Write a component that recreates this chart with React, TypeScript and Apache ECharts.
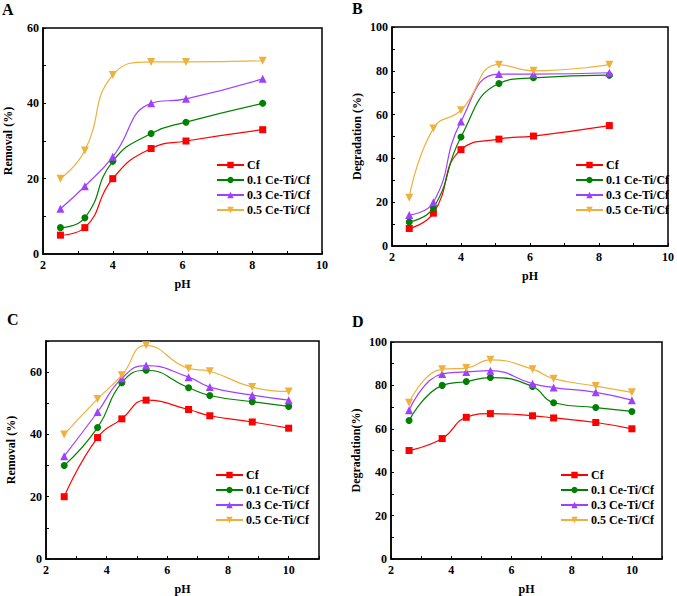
import React, { useEffect, useRef } from "react";
import * as echarts from "echarts";

const seriesNames = ["Cf", "0.1 Ce-Ti/Cf", "0.3 Ce-Ti/Cf", "0.5 Ce-Ti/Cf"];
const seriesColors = ["#ff0000", "#008000", "#a040ff", "#eeb13c"];

// Panel A: Removal vs pH
const pHA = [2.5, 3.2, 4.0, 5.1, 6.1, 8.3];
const removalA_Cf = [5, 7, 20, 28, 30, 33];
const removalA_01 = [7, 9.6, 24.6, 32, 35, 40];
const removalA_03 = [12, 18, 25.8, 40, 41.2, 46.5];
const removalA_05 = [20, 27.5, 47.5, 51, 51, 51.3];

// Panel B: Degradation vs pH
const pHB = [2.5, 3.2, 4.0, 5.1, 6.1, 8.3];
const degB_Cf = [8, 15, 44, 48.8, 50.2, 55];
const degB_01 = [11, 17.4, 49.8, 74.2, 76.8, 78];
const degB_03 = [14.2, 20, 56.9, 78.5, 78.5, 79.1];
const degB_05 = [22, 53.7, 62, 82.8, 80, 82.8];

// Panel C: Removal vs pH
const pHC = [2.6, 3.7, 4.5, 5.3, 6.7, 7.4, 8.8, 10];
const removalC_Cf = [20, 39, 45, 51, 48, 46, 44, 42];
const removalC_01 = [30, 42.2, 56.6, 60.6, 55, 52.5, 50.5, 49];
const removalC_03 = [33, 47.2, 58, 62.1, 58.4, 55.2, 52.6, 51];
const removalC_05 = [40, 51.4, 59, 68.6, 61.2, 60.3, 55.2, 53.8];

// Panel D: Degradation vs pH
const pHD = [2.6, 3.7, 4.5, 5.3, 6.7, 7.4, 8.8, 10];
const degD_Cf = [50, 55.5, 65.3, 67, 66, 65, 62.9, 60];
const degD_01 = [63.8, 80, 81.8, 83.6, 79.5, 72, 69.8, 68];
const degD_03 = [68.5, 85.3, 86.2, 86.8, 80.8, 79, 76.8, 73.2];
const degD_05 = [72, 87.5, 88, 91.8, 87.5, 83.1, 79.7, 76.8];

const xTicksAB = [2, 4, 6, 8, 10];
const xTicksCD = [2, 4, 6, 8, 10];
const yTicksA = [0, 20, 40, 60];
const yTicksB = [0, 20, 40, 60, 80, 100];
const yTicksC = [0, 20, 40, 60];
const yTicksD = [0, 20, 40, 60, 80, 100];

const FONT = "'Liberation Serif', 'Times New Roman', serif";

const symbols = [
  "rect",
  "circle",
  "triangle",
  "path://M0,0L10,0L5,9Z",
];
const symbolSizes = [7, 7, 8, 8];

type Panel = {
  letter: string;
  x: number[];
  ys: number[][];
  yName: string;
  xMax: number;
  yMax: number;
  xTicks: number[];
  yTicks: number[];
  grid: { left: number; top: number; width: number; height: number };
  legend: { left: number; top: number };
  letterPos: { left: number; top: number };
};

const panels: Panel[] = [
  {
    letter: "A",
    x: pHA,
    ys: [removalA_Cf, removalA_01, removalA_03, removalA_05],
    yName: "Removal (%)",
    xMax: 10,
    yMax: 60,
    xTicks: xTicksAB,
    yTicks: yTicksA,
    grid: { left: 43, top: 28, width: 279, height: 226 },
    legend: { left: 216, top: 159 },
    letterPos: { left: 2, top: 1 },
  },
  {
    letter: "B",
    x: pHB,
    ys: [degB_Cf, degB_01, degB_03, degB_05],
    yName: "Degradation (%)",
    xMax: 10,
    yMax: 100,
    xTicks: xTicksAB,
    yTicks: yTicksB,
    grid: { left: 392, top: 27, width: 279, height: 219 },
    legend: { left: 575, top: 159 },
    letterPos: { left: 352, top: 0 },
  },
  {
    letter: "C",
    x: pHC,
    ys: [removalC_Cf, removalC_01, removalC_03, removalC_05],
    yName: "Removal (%)",
    xMax: 11,
    yMax: 70,
    xTicks: xTicksCD,
    yTicks: yTicksC,
    grid: { left: 46, top: 341, width: 273, height: 218 },
    legend: { left: 215, top: 469 },
    letterPos: { left: 7, top: 311 },
  },
  {
    letter: "D",
    x: pHD,
    ys: [degD_Cf, degD_01, degD_03, degD_05],
    yName: "Degradation(%)",
    xMax: 11,
    yMax: 100,
    xTicks: xTicksCD,
    yTicks: yTicksD,
    grid: { left: 391, top: 342, width: 271, height: 218 },
    legend: { left: 560, top: 469 },
    letterPos: { left: 352, top: 313 },
  },
];

export default function App() {
  const ref = useRef<HTMLDivElement>(null);
  useEffect(() => {
    if (!ref.current) return;
    const chart = echarts.init(ref.current, undefined, { renderer: "svg" });
    const textBase = { fontFamily: FONT, fontWeight: "bold" as const, color: "#000" };

    const grids: any[] = [];
    const xAxes: any[] = [];
    const yAxes: any[] = [];
    const series: any[] = [];
    const legends: any[] = [];
    const graphics: any[] = [];

    panels.forEach((p, i) => {
      grids.push({
        ...p.grid,
        show: true,
        borderColor: "#000",
        borderWidth: 1.5,
        backgroundColor: "transparent",
      });
      xAxes.push({
        type: "value",
        gridIndex: i,
        min: 2,
        max: p.xMax,
        interval: 1,
        name: "pH",
        nameLocation: "middle",
        nameGap: 24,
        nameTextStyle: { ...textBase, fontSize: 12 },
        splitLine: { show: false },
        axisLine: { show: true, lineStyle: { color: "#000", width: 1.5 } },
        axisTick: { show: true, inside: true, length: 3, lineStyle: { color: "#000", width: 1 } },
        axisLabel: {
          ...textBase,
          fontSize: 12,
          margin: 5,
          formatter: (v: number) => (p.xTicks.includes(v) ? String(v) : ""),
        },
      });
      yAxes.push({
        type: "value",
        gridIndex: i,
        min: 0,
        max: p.yMax,
        interval: 10,
        name: p.yName,
        nameLocation: "middle",
        nameRotate: 90,
        nameGap: 29,
        nameTextStyle: { ...textBase, fontSize: 12 },
        splitLine: { show: false },
        axisLine: { show: true, lineStyle: { color: "#000", width: 1.5 } },
        axisTick: { show: true, inside: true, length: 3, lineStyle: { color: "#000", width: 1 } },
        axisLabel: {
          ...textBase,
          fontSize: 12,
          margin: 4,
          formatter: (v: number) => (p.yTicks.includes(v) ? String(v) : ""),
        },
      });
      p.ys.forEach((ys, k) => {
        series.push({
          type: "line",
          name: seriesNames[k],
          xAxisIndex: i,
          yAxisIndex: i,
          data: p.x.map((xv, j) => [xv, ys[j]]),
          smooth: true,
          symbol: symbols[k],
          symbolSize: symbolSizes[k],
          showAllSymbol: true,
          color: seriesColors[k],
          lineStyle: { color: seriesColors[k], width: 1.2 },
          itemStyle: { color: seriesColors[k] },
          z: 2 + k,
        });
      });
      legends.push({
        left: p.legend.left,
        top: p.legend.top,
        orient: "vertical",
        itemWidth: 27,
        itemHeight: 8,
        itemGap: 3,
        padding: 0,
        data: seriesNames,
        textStyle: { ...textBase, fontSize: 12, lineHeight: 12, padding: [0, 0, 0, -2] },
        selectedMode: false,
      });
      graphics.push({
        type: "text",
        left: p.letterPos.left,
        top: p.letterPos.top,
        style: { text: p.letter, font: `bold 16px ${FONT}`, fill: "#000" },
      });
    });

    chart.setOption({
      animation: false,
      backgroundColor: "#fff",
      grid: grids,
      xAxis: xAxes,
      yAxis: yAxes,
      series,
      legend: legends,
      graphic: graphics,
    });
    return () => chart.dispose();
  }, []);
  return (
    <div
      ref={ref}
      style={{ position: "absolute", left: 0, top: 0, width: 677, height: 596 }}
    />
  );
}
